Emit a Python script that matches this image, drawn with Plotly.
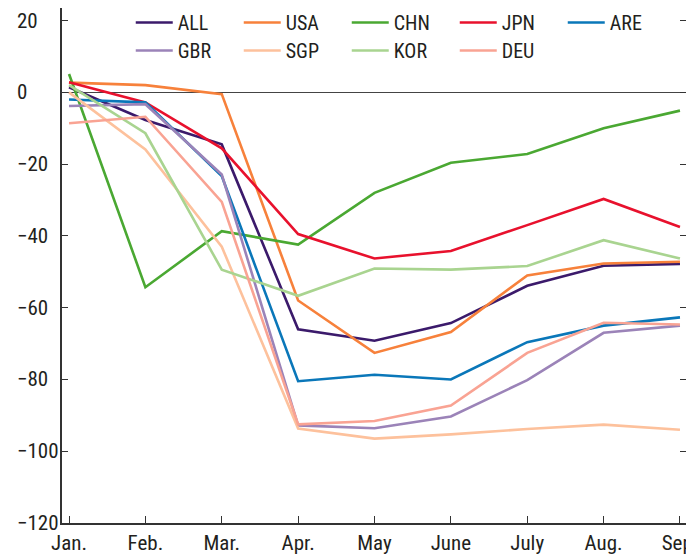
import plotly.graph_objects as go

months = ["Jan.", "Feb.", "Mar.", "Apr.", "May", "June", "July", "Aug.", "Sep."]

series_names = ["ALL", "USA", "CHN", "JPN", "ARE", "GBR", "SGP", "KOR", "DEU"]

ALL = [1.4, -7.7, -14.5, -66.0, -69.2, -64.3, -53.9, -48.3, -47.8]
USA = [2.7, 2.0, -0.5, -58.0, -72.6, -66.8, -51.0, -47.7, -47.2]
CHN = [5.1, -54.3, -38.7, -42.4, -28.0, -19.6, -17.2, -10.0, -5.1]
JPN = [2.8, -2.8, -15.6, -39.5, -46.3, -44.2, -37.0, -29.7, -37.5]
ARE = [-2.0, -2.8, -23.3, -80.5, -78.7, -80.0, -69.6, -65.0, -62.7]
GBR = [-3.8, -3.3, -22.9, -92.8, -93.6, -90.3, -80.2, -67.0, -65.0]
SGP = [0.0, -15.9, -43.0, -93.7, -96.5, -95.3, -93.8, -92.6, -94.0]
KOR = [2.0, -11.4, -49.4, -56.7, -49.1, -49.4, -48.4, -41.2, -46.3]
DEU = [-8.6, -6.8, -30.5, -92.5, -91.6, -87.3, -72.6, -64.2, -64.7]

values = [ALL, USA, CHN, JPN, ARE, GBR, SGP, KOR, DEU]
colors = ["#3b1a6b", "#f7813b", "#4aa832", "#e8112d", "#0a77b9",
          "#9b83b8", "#fdc19c", "#a9d490", "#f9a393"]

y_ticks = [20, 0, -20, -40, -60, -80, -100, -120]

FONT = "Liberation Sans Narrow, Arial Narrow, Roboto Condensed, DejaVu Sans Condensed, sans-serif"
TXT = "#231f20"

x_idx = list(range(len(months)))

fig = go.Figure()
for i, (name, vals, col) in enumerate(zip(series_names, values, colors)):
    fig.add_trace(go.Scatter(
        x=x_idx, y=vals, name=name, mode="lines",
        line=dict(color=col, width=2.6),
        yaxis="y2" if i == len(series_names) - 1 else "y",
        legend="legend" if i < 5 else "legend2",
    ))

yr = [-120, 23.5]

leg_common = dict(
    orientation="h", xref="paper", yref="paper",
    xanchor="left", yanchor="top",
    entrywidth=56, entrywidthmode="pixels", itemwidth=37,
    font=dict(family=FONT, size=20, color=TXT),
    bgcolor="rgba(0,0,0,0)",
)

fig.update_layout(
    width=686, height=550,
    margin=dict(l=54, r=7, t=0, b=35, autoexpand=False),
    paper_bgcolor="white", plot_bgcolor="white",
    font=dict(family=FONT, size=21, color=TXT),
    showlegend=True,
    legend=dict(x=0.110, y=1.0097, **leg_common),
    legend2=dict(x=0.110, y=0.9553, **leg_common),
    xaxis=dict(
        range=[-0.092, 8.092], tickmode="array", tickvals=x_idx, ticktext=months,
        ticks="inside", ticklen=7, tickcolor="#333", tickwidth=1.2,
        showline=True, linecolor="#333", linewidth=1.5,
        showgrid=False, zeroline=False, ticklabeloverflow="allow",
        tickfont=dict(family=FONT, size=21, color=TXT),
    ),
    yaxis=dict(
        range=yr, tickmode="array", tickvals=y_ticks,
        ticks="inside", ticklen=6, tickcolor="#333", tickwidth=1.2,
        showline=True, linecolor="#333", linewidth=1.5,
        showgrid=False, showticklabels=False,
        zeroline=True, zerolinecolor="#444", zerolinewidth=1.2,
    ),
    yaxis2=dict(
        range=yr, overlaying="y", side="right", matches="y",
        tickmode="array", tickvals=y_ticks,
        ticks="inside", ticklen=7, tickcolor="#333", tickwidth=1.2,
        showline=False, showgrid=False, showticklabels=False, zeroline=False,
    ),
)

for t in y_ticks:
    fig.add_annotation(
        xref="paper", yref="y", x=-0.0752, y=t,
        text=(("\u2212" + str(abs(t))) if t < 0 else str(t)),
        showarrow=False, xanchor="left", yanchor="middle",
        font=dict(family=FONT, size=21, color=TXT),
    )

fig.write_html("out.html")
